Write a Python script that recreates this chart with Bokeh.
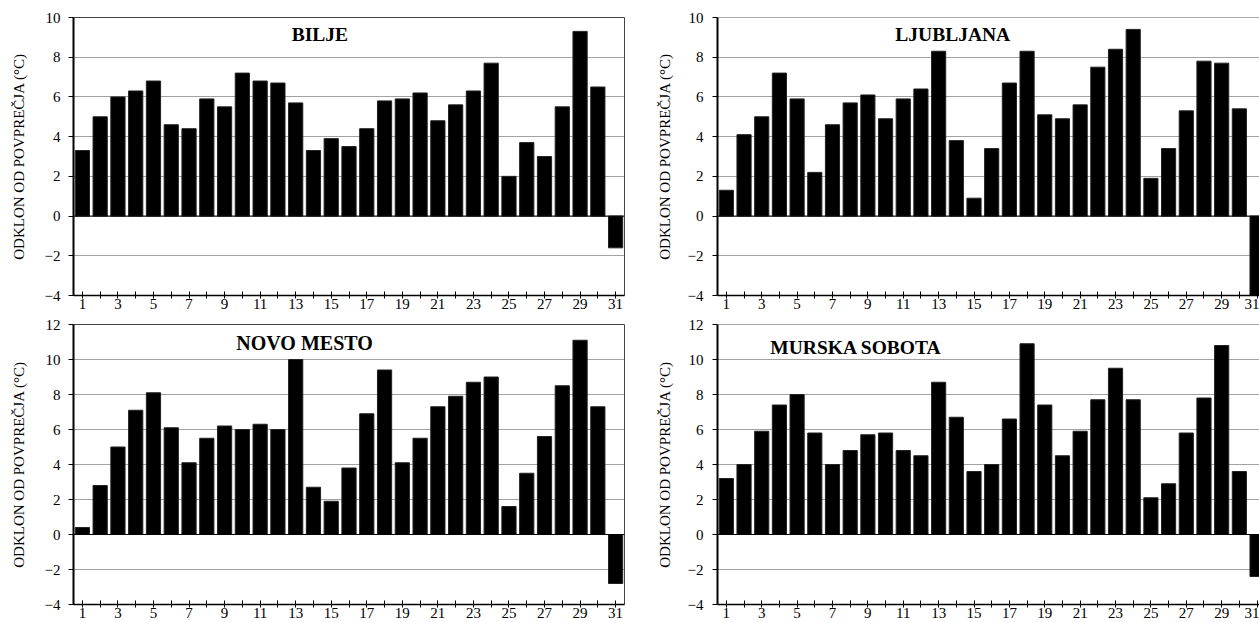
from bokeh.plotting import figure
from bokeh.layouts import row, column
from bokeh.models import FixedTicker, Range1d, Label, Span
from bokeh.embed import file_html
from bokeh.resources import INLINE

days = list(range(1, 32))
odd_days = list(range(1, 32, 2))
even_days = list(range(2, 31, 2))

bilje = [3.3, 5.0, 6.0, 6.3, 6.8, 4.6, 4.4, 5.9, 5.5, 7.2, 6.8, 6.7, 5.7, 3.3, 3.9, 3.5,
         4.4, 5.8, 5.9, 6.2, 4.8, 5.6, 6.3, 7.7, 2.0, 3.7, 3.0, 5.5, 9.3, 6.5, -1.6]
ljubljana = [1.3, 4.1, 5.0, 7.2, 5.9, 2.2, 4.6, 5.7, 6.1, 4.9, 5.9, 6.4, 8.3, 3.8, 0.9, 3.4,
             6.7, 8.3, 5.1, 4.9, 5.6, 7.5, 8.4, 9.4, 1.9, 3.4, 5.3, 7.8, 7.7, 5.4, -4.6]
novo_mesto = [0.4, 2.8, 5.0, 7.1, 8.1, 6.1, 4.1, 5.5, 6.2, 6.0, 6.3, 6.0, 10.0, 2.7, 1.9, 3.8,
              6.9, 9.4, 4.1, 5.5, 7.3, 7.9, 8.7, 9.0, 1.6, 3.5, 5.6, 8.5, 11.1, 7.3, -2.8]
murska_sobota = [3.2, 4.0, 5.9, 7.4, 8.0, 5.8, 4.0, 4.8, 5.7, 5.8, 4.8, 4.5, 8.7, 6.7, 3.6, 4.0,
                 6.6, 10.9, 7.4, 4.5, 5.9, 7.7, 9.5, 7.7, 2.1, 2.9, 5.8, 7.8, 10.8, 3.6, -2.4]

y_ticks_top = [-4, -2, 0, 2, 4, 6, 8, 10]
y_ticks_bottom = [-4, -2, 0, 2, 4, 6, 8, 10, 12]

y_label = "ODKLON OD POVPREČJA (°C)"
FONT = "Liberation Serif"


def panel(values, title, tx, ty, title_size, y_ticks, right_side, top_border, frame_h, bottom_border):
    y0, y1 = y_ticks[0], y_ticks[-1]
    if right_side:
        fw = 542
        x_end = 0.5 + fw / 17.69
        mbl, mbr = 87, 0
    else:
        fw = 551
        x_end = 31.5
        mbl, mbr = 73, 6
    p = figure(frame_width=fw, frame_height=frame_h,
               x_range=Range1d(0.5, x_end), y_range=Range1d(y0, y1),
               output_backend="svg", toolbar_location=None,
               min_border_left=mbl, min_border_right=mbr,
               min_border_top=top_border, min_border_bottom=bottom_border)
    p.background_fill_color = "white"
    p.border_fill_color = "white"
    if right_side:
        p.outline_line_color = None
        p.add_layout(Span(location=y1, dimension="width", line_color="#555555", line_width=1))
    else:
        p.outline_line_color = "#444444"
        p.outline_line_width = 1

    p.vbar(x=days, top=values, width=0.8, bottom=0,
           fill_color="black", line_color="#222222", line_width=1)

    # grid
    p.xgrid.visible = False
    p.ygrid.ticker = FixedTicker(ticks=y_ticks)
    p.ygrid.grid_line_color = "#444444"
    p.ygrid.grid_line_dash = "1 1"
    p.ygrid.grid_line_width = 1
    p.add_layout(Span(location=0, dimension="width", line_color="black", line_width=1))

    # x axis
    xa = p.xaxis[0]
    xa.ticker = FixedTicker(ticks=odd_days, minor_ticks=even_days)
    xa.major_tick_in = 4
    xa.major_tick_out = 3
    xa.minor_tick_in = 4
    xa.minor_tick_out = 3
    xa.major_tick_line_color = "black"
    xa.minor_tick_line_color = "black"
    xa.axis_line_color = "black"
    xa.axis_line_width = 1.5
    xa.major_label_standoff = 0
    xa.major_label_text_font = FONT
    xa.major_label_text_font_size = "15px"
    xa.major_label_text_color = "black"

    # y axis
    ya = p.yaxis[0]
    ya.ticker = FixedTicker(ticks=y_ticks)
    ya.major_tick_in = 0
    ya.major_tick_out = 5
    ya.minor_tick_line_color = None
    ya.major_tick_line_color = "black"
    ya.axis_line_color = "black"
    ya.axis_line_width = 2
    ya.major_label_standoff = 9 if right_side else 8
    ya.major_label_text_font = FONT
    ya.major_label_text_font_size = "15px"
    ya.major_label_text_color = "black"
    ya.axis_label = y_label
    ya.axis_label_text_font = FONT
    ya.axis_label_text_font_size = "15px"
    ya.axis_label_text_font_style = "normal"
    ya.axis_label_text_color = "black"
    ya.axis_label_standoff = 12 if right_side else 15

    p.add_layout(Label(x=tx, y=ty, text=title, text_font=FONT, text_font_size=title_size,
                       text_font_style="bold", text_align="center", text_baseline="middle",
                       text_color="black"))
    return p


p1 = panel(bilje, "BILJE", 14.36, 9.14, "19.5px", y_ticks_top, False, 17, 278, 15)
p2 = panel(ljubljana, "LJUBLJANA", 13.8, 9.14, "19.5px", y_ticks_top, True, 17, 278, 15)
p3 = panel(novo_mesto, "NOVO MESTO", 13.5, 10.97, "20px", y_ticks_bottom, False, 13, 280, 18)
p4 = panel(murska_sobota, "MURSKA SOBOTA", 8.33, 10.69, "19.5px", y_ticks_bottom, True, 13, 280, 18)

layout = column(row(p1, p2), row(p3, p4))

open("out.html", "w").write(file_html(layout, INLINE))
